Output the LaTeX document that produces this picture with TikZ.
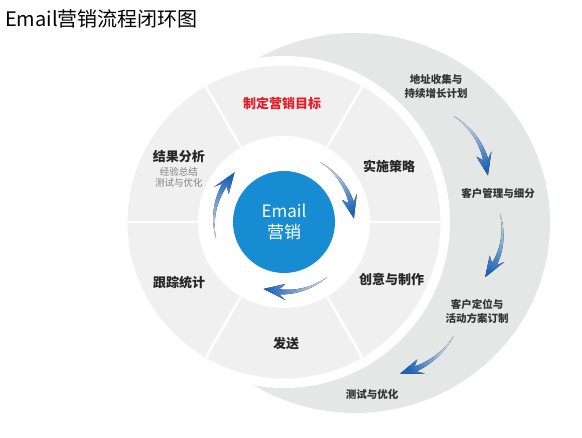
\documentclass[tikz,border=0pt]{standalone}
\usepackage{fontspec}
\setmainfont{Noto Sans CJK SC}
\usetikzlibrary{calc,positioning}

\definecolor{ringgray}{RGB}{240,240,240}
\definecolor{crescentgray}{RGB}{229,231,231}
\definecolor{emailblue}{RGB}{24,140,210}
\definecolor{goalred}{RGB}{226,30,40}
\definecolor{arrowhead}{RGB}{30,100,185}
\definecolor{arrowtail}{RGB}{210,224,240}

% curved tapered arrow: center, radius, tail angle, tip angle
\newcommand{\bendarrow}[4]{%
  \pgfmathsetmacro{\sg}{sign(#4-#3)}
  \pgfmathsetmacro{\ba}{#4-\sg*22/#2*57.3}
  \pgfmathsetmacro{\na}{#4-\sg*16/#2*57.3}
  \pgfmathsetmacro{\sh}{atan2(sin(#4)-sin(#3),cos(#4)-cos(#3))+90}
  \begin{scope}[shift={(#1)}]
    \fill[left color=arrowtail,right color=arrowhead,shading angle=\sh]
      plot[domain=#3:\na,samples=25] (\x:{#2+2.6*(\x-#3)/(\na-#3)})
      -- (\ba:{#2+8}) -- (#4:#2) -- (\ba:{#2-8})
      -- plot[domain=\na:#3,samples=25] (\x:{#2-2.6*(\x-#3)/(\na-#3)}) -- cycle;
  \end{scope}}

\begin{document}
\begin{tikzpicture}
[x=1pt,y=1pt,
seglabel/.style={font=\fontsize{13}{15}\selectfont\bfseries,text=black!85},
outerlabel/.style={font=\fontsize{10.5}{14}\selectfont\bfseries,text=black!80,align=center},
sublabel/.style={font=\fontsize{9.5}{11}\selectfont,text=black!50,align=center}
]
\tikzset{every node/.style={inner sep=0pt}}
%\tikzset{every node/.style={inner sep=0pt,draw=red}}
\useasboundingbox (0,0) rectangle (582,438);
\coordinate (M) at (284,216);

\node[anchor=base west,font=\fontsize{20}{24}\selectfont] (title) at (5,411) {Email营销流程闭环图};

% back crescent
\fill[crescentgray] (355,215) ellipse [x radius=195, y radius=190];
\fill[white] (M) circle (166);
\fill[ringgray] (M) circle (156.5);
\foreach \a in {0,60,...,300}
    \draw[white,line width=2.5pt] ($(M)+(\a:85)$) -- ($(M)+(\a:158)$);
\fill[white] (M) circle (86);
\node[circle,fill=emailblue,minimum size=102pt,text=white,align=center,
      font=\fontsize{17}{21}\selectfont] (email) at (M) {Email\\营销};

% ring
\node[seglabel,text=goalred] (goal) at ($(M)+(-2,119)$) {制定营销目标};
\node[seglabel] (strategy) at ($(M)+(28:119)$) {实施策略};
\node[seglabel] (creative) at ($(M)+(-28:122)$) {创意与制作};
\node[seglabel] (send) at ($(M)+(-89:122)$) {发送};
\node[seglabel] (track) at ($(M)+(210:121)$) {跟踪统计};
\node[seglabel] (result) at ($(M)+(148:124)$) {结果分析};
\node[sublabel,below=4.5pt of result] (resultsub) {经验总结\\测试与优化};

% crescent
\node[outerlabel] (collect) at (436,351) {地址收集与\\持续增长计划};
\node[outerlabel] (manage) at (498,245) {客户管理与细分};
\node[outerlabel] (target) at (477,127) {客户定位与\\活动方案订制};
\node[outerlabel] (test) at (372,43) {测试与优化};

\bendarrow{M}{70}{59}{3}
\bendarrow{M}{70}{-52}{-107}
\bendarrow{M}{70}{194}{135}
\bendarrow{415,260}{73}{58}{2}
\bendarrow{435,206}{67.5}{16}{-42}
\bendarrow{385,143}{80}{-31}{-79}
\end{tikzpicture}
\end{document}
